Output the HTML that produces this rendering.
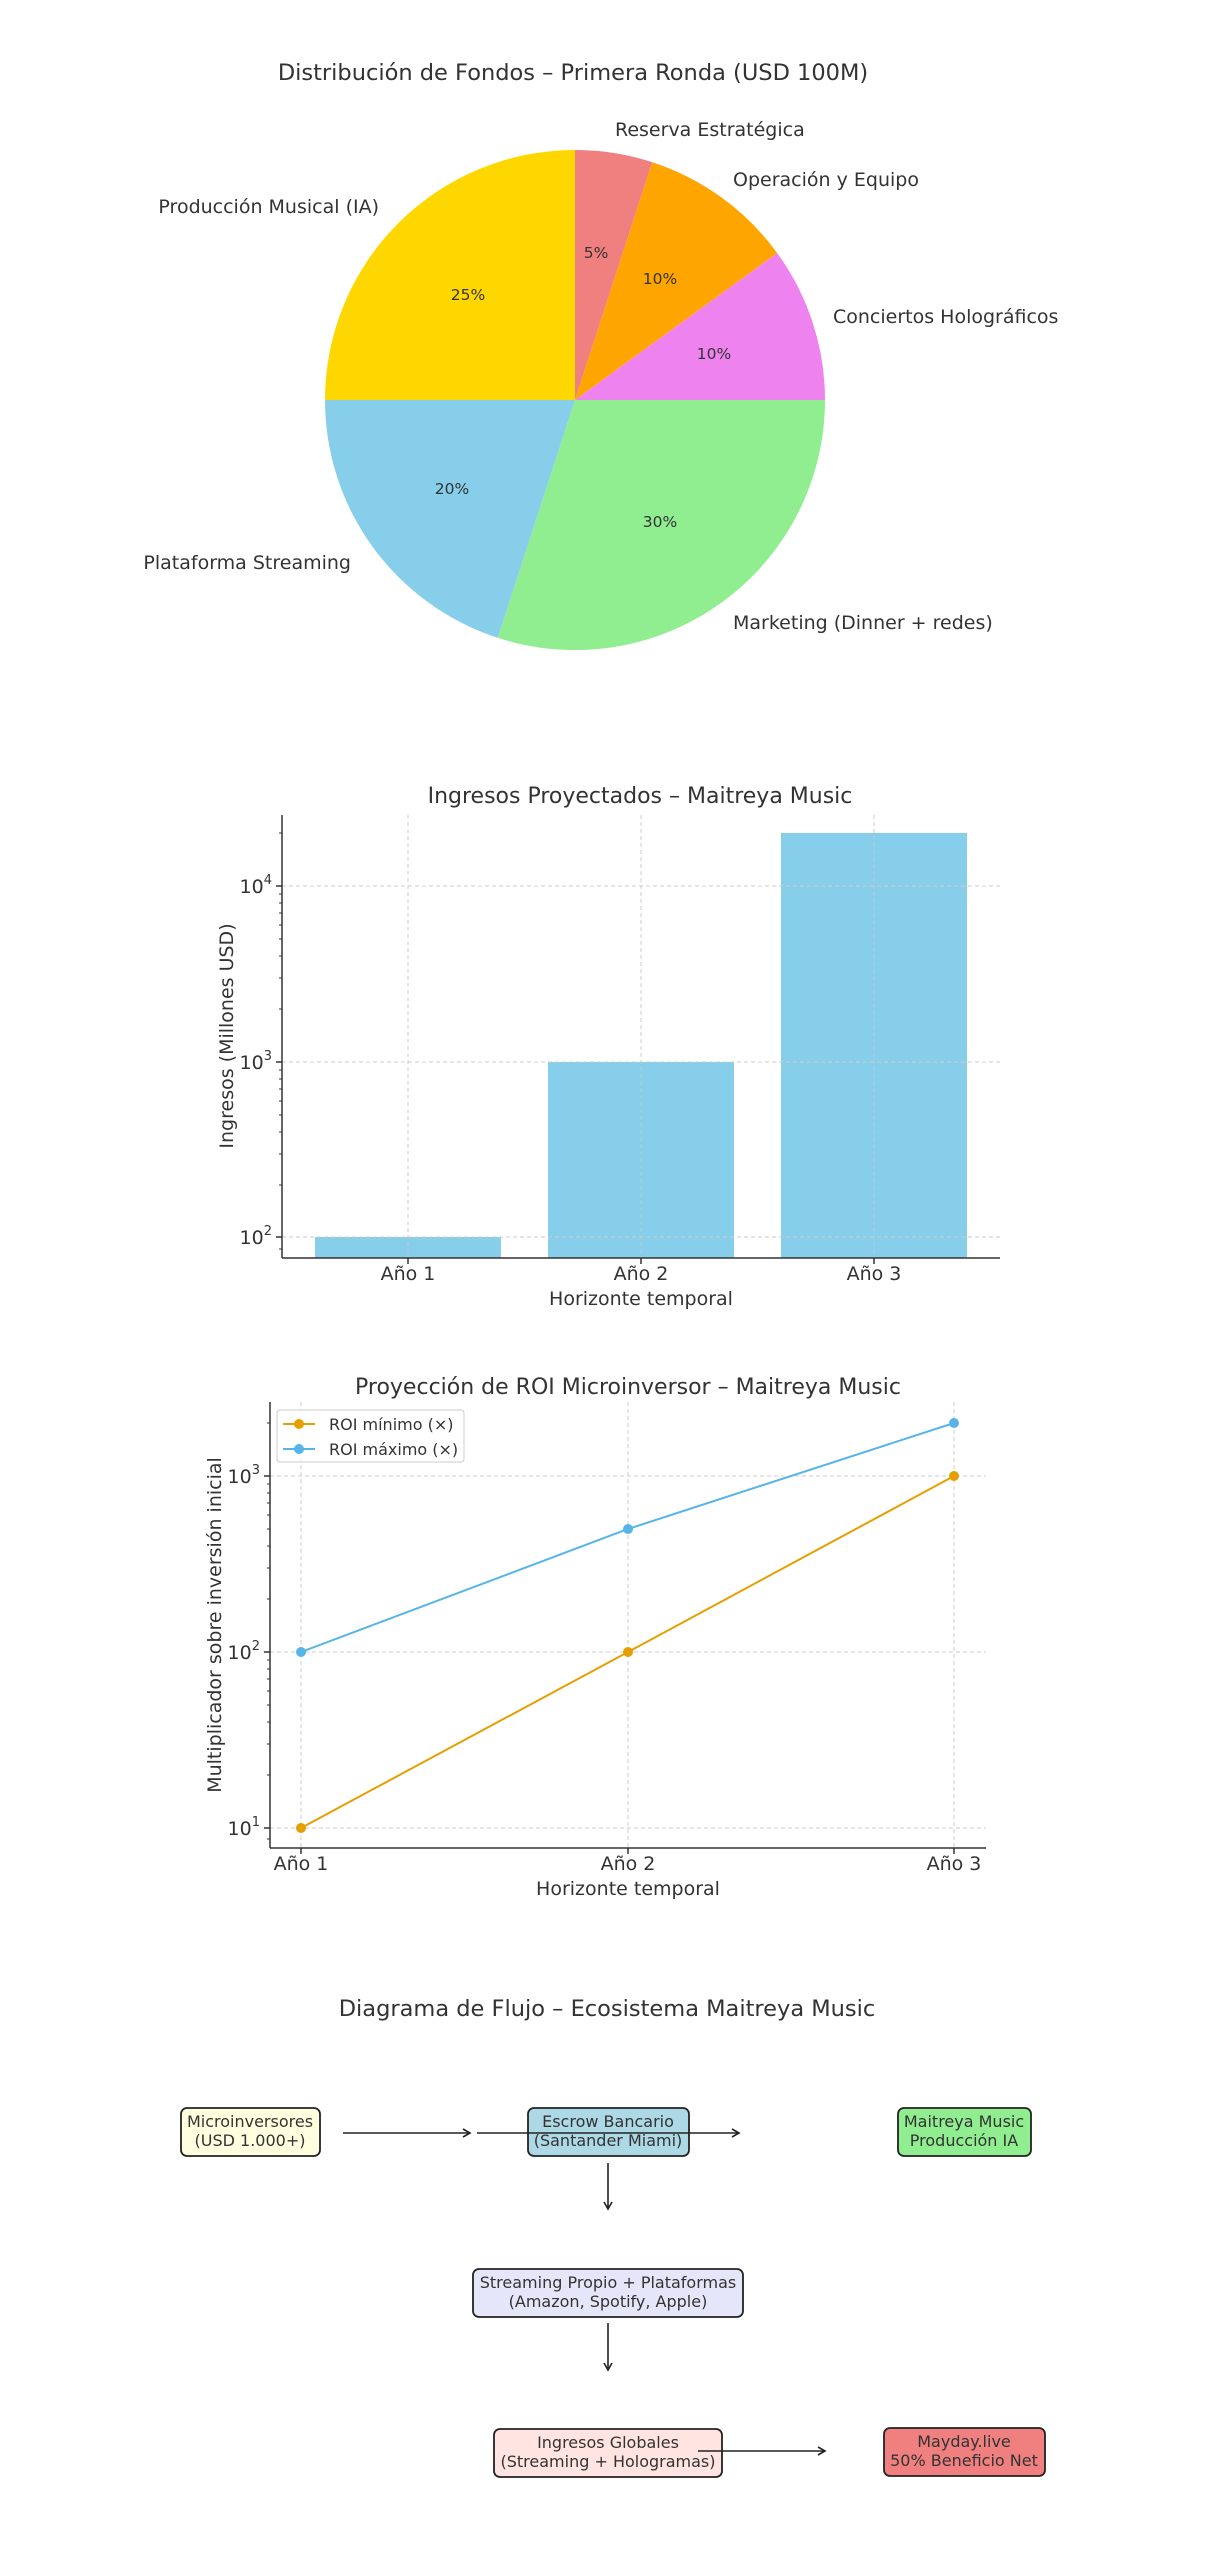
<!DOCTYPE html>
<html><head><meta charset="utf-8"><style>
html,body{margin:0;padding:0;background:#fff}
svg{display:block}
text{font-family:"DejaVu Sans","Liberation Sans",sans-serif;fill:#333}
</style></head><body>
<svg width="1214" height="2560" viewBox="0 0 1214 2560" xmlns="http://www.w3.org/2000/svg">
<!-- PIE -->
<text x="573" y="80" font-size="22.5" text-anchor="middle">Distribución de Fondos – Primera Ronda (USD 100M)</text>
<g>
<path d="M575,400 L575,150 A250,250 0 0 1 652.3,162.2 Z" fill="#F08080"/>
<path d="M575,400 L652.3,162.2 A250,250 0 0 1 777.2,253.1 Z" fill="#FFA500"/>
<path d="M575,400 L777.2,253.1 A250,250 0 0 1 825,400 Z" fill="#EE82EE"/>
<path d="M575,400 L825,400 A250,250 0 0 1 497.7,637.8 Z" fill="#90EE90"/>
<path d="M575,400 L497.7,637.8 A250,250 0 0 1 325,400 Z" fill="#87CEEB"/>
<path d="M575,400 L325,400 A250,250 0 0 1 575,150 Z" fill="#FFD700"/>
</g>
<g font-size="19">
<text x="615" y="136">Reserva Estratégica</text>
<text x="733" y="186">Operación y Equipo</text>
<text x="379" y="213" text-anchor="end">Producción Musical (IA)</text>
<text x="833" y="323">Conciertos Holográficos</text>
<text x="351" y="569" text-anchor="end">Plataforma Streaming</text>
<text x="733" y="629">Marketing (Dinner + redes)</text>
</g>
<g font-size="15.5" text-anchor="middle">
<text x="596" y="258">5%</text>
<text x="660" y="284">10%</text>
<text x="714" y="359">10%</text>
<text x="468" y="300">25%</text>
<text x="452" y="494">20%</text>
<text x="660" y="527">30%</text>
</g>

<!-- BAR CHART -->
<text x="640" y="803" font-size="22" text-anchor="middle">Ingresos Proyectados – Maitreya Music</text>
<g stroke="#ccc" stroke-width="1" stroke-dasharray="4,3">
<line x1="408" y1="815" x2="408" y2="1258"/><line x1="641" y1="815" x2="641" y2="1258"/><line x1="874" y1="815" x2="874" y2="1258"/>
</g>
<rect x="315" y="1237" width="186" height="21" fill="#87CEEB"/>
<rect x="548" y="1062" width="186" height="196" fill="#87CEEB"/>
<rect x="781" y="833" width="186" height="425" fill="#87CEEB"/>
<g stroke="#ccc" stroke-width="1" stroke-dasharray="4,3">
<line x1="282" y1="886" x2="1000" y2="886"/><line x1="282" y1="1062" x2="1000" y2="1062"/><line x1="282" y1="1237" x2="1000" y2="1237"/>
<line x1="408" y1="815" x2="408" y2="1258" stroke-opacity=".6"/><line x1="641" y1="815" x2="641" y2="1258" stroke-opacity=".6"/><line x1="874" y1="815" x2="874" y2="1258" stroke-opacity=".6"/>
</g>
<g stroke="#333" stroke-width="1.5">
<line x1="282" y1="815" x2="282" y2="1258"/><line x1="282" y1="1258" x2="1000" y2="1258"/>
<line x1="276" y1="886" x2="282" y2="886"/><line x1="276" y1="1062" x2="282" y2="1062"/><line x1="276" y1="1237" x2="282" y2="1237"/>
<line x1="408" y1="1258" x2="408" y2="1264"/><line x1="641" y1="1258" x2="641" y2="1264"/><line x1="874" y1="1258" x2="874" y2="1264"/>
</g>
<g stroke="#333" stroke-width="1">
<line x1="279" y1="1249" x2="282" y2="1249"/>
<line x1="279" y1="1009" x2="282" y2="1009"/><line x1="279" y1="978" x2="282" y2="978"/><line x1="279" y1="956" x2="282" y2="956"/><line x1="279" y1="939" x2="282" y2="939"/><line x1="279" y1="925" x2="282" y2="925"/><line x1="279" y1="913" x2="282" y2="913"/><line x1="279" y1="903" x2="282" y2="903"/><line x1="279" y1="894" x2="282" y2="894"/>
<line x1="279" y1="1185" x2="282" y2="1185"/><line x1="279" y1="1154" x2="282" y2="1154"/><line x1="279" y1="1132" x2="282" y2="1132"/><line x1="279" y1="1115" x2="282" y2="1115"/><line x1="279" y1="1101" x2="282" y2="1101"/><line x1="279" y1="1089" x2="282" y2="1089"/><line x1="279" y1="1079" x2="282" y2="1079"/><line x1="279" y1="1070" x2="282" y2="1070"/>
<line x1="279" y1="833" x2="282" y2="833"/>
</g>
<g font-size="19" text-anchor="end">
<text x="272" y="893">10<tspan font-size="13" dy="-9">4</tspan></text>
<text x="272" y="1069">10<tspan font-size="13" dy="-9">3</tspan></text>
<text x="272" y="1244">10<tspan font-size="13" dy="-9">2</tspan></text>
</g>
<g font-size="19" text-anchor="middle">
<text x="408" y="1280">Año 1</text><text x="641" y="1280">Año 2</text><text x="874" y="1280">Año 3</text>
<text x="641" y="1305">Horizonte temporal</text>
<text transform="translate(233,1036) rotate(-90)">Ingresos (Millones USD)</text>
</g>

<!-- LINE CHART -->
<text x="628" y="1394" font-size="22" text-anchor="middle">Proyección de ROI Microinversor – Maitreya Music</text>
<g stroke="#ccc" stroke-width="1" stroke-dasharray="4,3">
<line x1="301" y1="1402" x2="301" y2="1848"/><line x1="628" y1="1402" x2="628" y2="1848"/><line x1="954" y1="1402" x2="954" y2="1848"/>
<line x1="270" y1="1476" x2="986" y2="1476"/><line x1="270" y1="1652" x2="986" y2="1652"/><line x1="270" y1="1828" x2="986" y2="1828"/>
</g>
<g stroke="#333" stroke-width="1.5">
<line x1="270" y1="1402" x2="270" y2="1848"/><line x1="270" y1="1848" x2="986" y2="1848"/>
<line x1="264" y1="1476" x2="270" y2="1476"/><line x1="264" y1="1652" x2="270" y2="1652"/><line x1="264" y1="1828" x2="270" y2="1828"/>
<line x1="301" y1="1848" x2="301" y2="1854"/><line x1="628" y1="1848" x2="628" y2="1854"/><line x1="954" y1="1848" x2="954" y2="1854"/>
</g>
<g stroke="#333" stroke-width="1">
<line x1="267" y1="1775" x2="270" y2="1775"/><line x1="267" y1="1744" x2="270" y2="1744"/><line x1="267" y1="1722" x2="270" y2="1722"/><line x1="267" y1="1705" x2="270" y2="1705"/><line x1="267" y1="1691" x2="270" y2="1691"/><line x1="267" y1="1679" x2="270" y2="1679"/><line x1="267" y1="1669" x2="270" y2="1669"/><line x1="267" y1="1660" x2="270" y2="1660"/>
<line x1="267" y1="1599" x2="270" y2="1599"/><line x1="267" y1="1568" x2="270" y2="1568"/><line x1="267" y1="1546" x2="270" y2="1546"/><line x1="267" y1="1529" x2="270" y2="1529"/><line x1="267" y1="1515" x2="270" y2="1515"/><line x1="267" y1="1503" x2="270" y2="1503"/><line x1="267" y1="1493" x2="270" y2="1493"/><line x1="267" y1="1484" x2="270" y2="1484"/>
<line x1="267" y1="1423" x2="270" y2="1423"/><line x1="267" y1="1839" x2="270" y2="1839"/>
</g>
<polyline points="301,1828 628,1652 954,1476" fill="none" stroke="#E69F00" stroke-width="2"/>
<polyline points="301,1652 628,1529 954,1423" fill="none" stroke="#56B4E9" stroke-width="2"/>
<g fill="#E69F00"><circle cx="301" cy="1828" r="5"/><circle cx="628" cy="1652" r="5"/><circle cx="954" cy="1476" r="5"/></g>
<g fill="#56B4E9"><circle cx="301" cy="1652" r="5"/><circle cx="628" cy="1529" r="5"/><circle cx="954" cy="1423" r="5"/></g>
<rect x="277" y="1410" width="187" height="52" rx="3" fill="#fff" fill-opacity=".8" stroke="#ccc"/>
<line x1="283" y1="1424" x2="315" y2="1424" stroke="#E69F00" stroke-width="2"/><circle cx="299" cy="1424" r="5" fill="#E69F00"/>
<line x1="283" y1="1449" x2="315" y2="1449" stroke="#56B4E9" stroke-width="2"/><circle cx="299" cy="1449" r="5" fill="#56B4E9"/>
<text x="329" y="1430" font-size="16">ROI mínimo (×)</text>
<text x="329" y="1455" font-size="16">ROI máximo (×)</text>
<g font-size="19" text-anchor="end">
<text x="260" y="1483">10<tspan font-size="13" dy="-9">3</tspan></text>
<text x="260" y="1659">10<tspan font-size="13" dy="-9">2</tspan></text>
<text x="260" y="1835">10<tspan font-size="13" dy="-9">1</tspan></text>
</g>
<g font-size="19" text-anchor="middle">
<text x="301" y="1870">Año 1</text><text x="628" y="1870">Año 2</text><text x="954" y="1870">Año 3</text>
<text x="628" y="1895">Horizonte temporal</text>
<text transform="translate(221,1625) rotate(-90)">Multiplicador sobre inversión inicial</text>
</g>

<!-- FLOW -->
<text x="607" y="2016" font-size="22.5" text-anchor="middle">Diagrama de Flujo – Ecosistema Maitreya Music</text>
<g stroke="#222" stroke-width="1.8">
<rect x="181" y="2108" width="139" height="48" rx="6" fill="#FFFFE0"/>
<rect x="528" y="2108" width="161" height="48" rx="6" fill="#ADD8E6"/>
<rect x="898" y="2108" width="133" height="48" rx="6" fill="#90EE90"/>
<rect x="473" y="2269" width="270" height="48" rx="6" fill="#E6E6FA"/>
<rect x="494" y="2429" width="228" height="48" rx="6" fill="#FFE4E1"/>
<rect x="884" y="2428" width="161" height="48" rx="6" fill="#F08080"/>
</g>
<g font-size="16" text-anchor="middle">
<text x="250" y="2127">Microinversores</text><text x="250" y="2146">(USD 1.000+)</text>
<text x="608" y="2127">Escrow Bancario</text><text x="608" y="2146">(Santander Miami)</text>
<text x="964" y="2127">Maitreya Music</text><text x="964" y="2146">Producción IA</text>
<text x="608" y="2288">Streaming Propio + Plataformas</text><text x="608" y="2307">(Amazon, Spotify, Apple)</text>
<text x="608" y="2448">Ingresos Globales</text><text x="608" y="2467">(Streaming + Hologramas)</text>
<text x="964" y="2447">Mayday.live</text><text x="964" y="2466">50% Beneficio Net</text>
</g>
<g stroke="#222" stroke-width="1.6" fill="none">
<line x1="343" y1="2133" x2="470" y2="2133"/><polyline points="463,2129 470,2133 463,2137"/>
<line x1="477" y1="2133" x2="739" y2="2133"/><polyline points="732,2129 739,2133 732,2137"/>
<line x1="608" y1="2163" x2="608" y2="2209"/><polyline points="604,2202 608,2209 612,2202"/>
<line x1="608" y1="2323" x2="608" y2="2370"/><polyline points="604,2363 608,2370 612,2363"/>
<line x1="698" y1="2451" x2="825" y2="2451"/><polyline points="818,2447 825,2451 818,2455"/>
</g>
</svg>
</body></html>
